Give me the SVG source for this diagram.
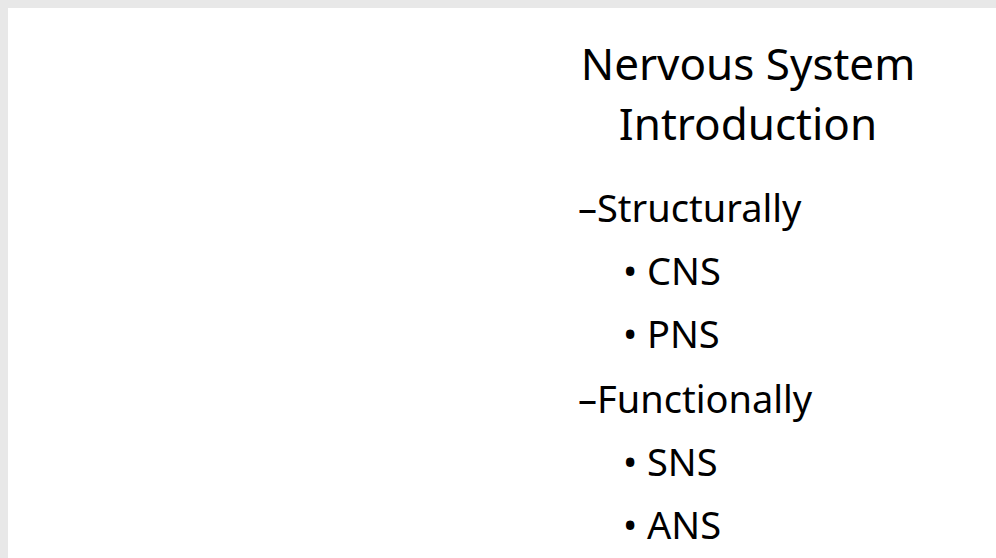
<svg xmlns="http://www.w3.org/2000/svg" width="996" height="558" viewBox="0 0 996 558">
<style>
text{font-family:"Noto Sans","Open Sans","Liberation Sans",sans-serif;fill:#000}
.t{font-size:44px;text-anchor:middle}
.l1{font-size:38px}
.l2{font-size:38px}
</style>
<rect width="996" height="558" fill="#e8e8e8"/>
<rect x="8" y="8" width="988" height="550" fill="#fff"/>
<g id="title">
<text class="t" x="748" y="80">Nervous System</text>
<text class="t" x="748" y="140">Introduction</text>
</g>
<g id="list">
<text class="l1" x="578" y="222">–Structurally</text>
<text class="l2" x="623" y="285">•</text><text class="l2" x="647" y="285">CNS</text>
<text class="l2" x="623" y="348">•</text><text class="l2" x="647" y="348">PNS</text>
<text class="l1" x="578" y="413">–Functionally</text>
<text class="l2" x="623" y="476">•</text><text class="l2" x="647" y="476">SNS</text>
<text class="l2" x="623" y="539">•</text><text class="l2" x="647" y="539">ANS</text>
</g>
</svg>
